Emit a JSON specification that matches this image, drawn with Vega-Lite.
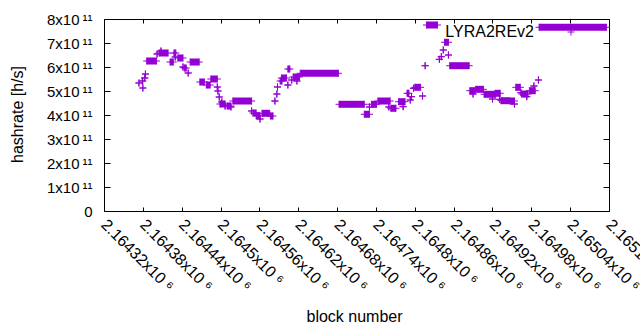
{
  "$schema": "https://vega.github.io/schema/vega-lite/v6.json",
  "width": 505,
  "height": 192,
  "autosize": {"type": "none"},
  "padding": {"left": 104, "top": 19, "right": 31, "bottom": 119},
  "background": "white",
  "config": {
    "view": {"stroke": "black", "strokeWidth": 1},
    "font": "Liberation Sans",
    "axis": {
      "grid": false,
      "domain": false,
      "tickColor": "black",
      "tickSize": -6,
      "tickWidth": 1,
      "labelFont": "Liberation Sans",
      "labelFontSize": 15,
      "labelColor": "black",
      "titleFont": "Liberation Sans",
      "titleFontSize": 16,
      "titleFontWeight": "normal",
      "titleColor": "black"
    },
    "legend": {
      "orient": "none",
      "legendX": 459,
      "legendY": 5,
      "padding": 0,
      "labelAlign": "right",
      "labelOffset": -45,
      "labelFont": "Liberation Sans",
      "labelFontSize": 16,
      "labelColor": "black",
      "symbolType": "M-1,0H1M0,-1V1",
      "symbolSize": 49,
      "symbolStrokeWidth": 1,
      "symbolFillColor": "transparent",
      "symbolStrokeColor": "#9400d3"
    }
  },
  "data": {
    "values": [
      {"block": 2164374, "end": 2164374, "hashrate": 5.333e11},
      {"block": 2164379, "end": 2164380, "hashrate": 5.417e11},
      {"block": 2164380, "end": 2164380, "hashrate": 5.125e11},
      {"block": 2164383, "end": 2164383, "hashrate": 5.542e11},
      {"block": 2164384, "end": 2164384, "hashrate": 5.708e11},
      {"block": 2164386, "end": 2164401, "hashrate": 6.25e11},
      {"block": 2164402, "end": 2164402, "hashrate": 6.542e11},
      {"block": 2164405, "end": 2164419, "hashrate": 6.583e11},
      {"block": 2164408, "end": 2164408, "hashrate": 6.667e11},
      {"block": 2164422, "end": 2164427, "hashrate": 6.208e11},
      {"block": 2164428, "end": 2164431, "hashrate": 6.583e11},
      {"block": 2164430, "end": 2164430, "hashrate": 6.417e11},
      {"block": 2164434, "end": 2164442, "hashrate": 6.375e11},
      {"block": 2164442, "end": 2164442, "hashrate": 6.0e11},
      {"block": 2164444, "end": 2164447, "hashrate": 5.958e11},
      {"block": 2164450, "end": 2164450, "hashrate": 5.75e11},
      {"block": 2164453, "end": 2164467, "hashrate": 6.208e11},
      {"block": 2164468, "end": 2164475, "hashrate": 5.375e11},
      {"block": 2164478, "end": 2164484, "hashrate": 5.25e11},
      {"block": 2164485, "end": 2164495, "hashrate": 5.5e11},
      {"block": 2164495, "end": 2164495, "hashrate": 5.167e11},
      {"block": 2164496, "end": 2164496, "hashrate": 5.0e11},
      {"block": 2164498, "end": 2164498, "hashrate": 4.75e11},
      {"block": 2164499, "end": 2164507, "hashrate": 4.458e11},
      {"block": 2164502, "end": 2164502, "hashrate": 4.542e11},
      {"block": 2164507, "end": 2164507, "hashrate": 4.375e11},
      {"block": 2164510, "end": 2164516, "hashrate": 4.375e11},
      {"block": 2164516, "end": 2164516, "hashrate": 4.333e11},
      {"block": 2164519, "end": 2164548, "hashrate": 4.583e11},
      {"block": 2164548, "end": 2164548, "hashrate": 4.167e11},
      {"block": 2164550, "end": 2164555, "hashrate": 4.083e11},
      {"block": 2164555, "end": 2164561, "hashrate": 3.97e11},
      {"block": 2164561, "end": 2164561, "hashrate": 3.833e11},
      {"block": 2164564, "end": 2164576, "hashrate": 4.07e11},
      {"block": 2164577, "end": 2164581, "hashrate": 3.958e11},
      {"block": 2164584, "end": 2164584, "hashrate": 4.583e11},
      {"block": 2164587, "end": 2164587, "hashrate": 4.875e11},
      {"block": 2164588, "end": 2164588, "hashrate": 5.167e11},
      {"block": 2164592, "end": 2164595, "hashrate": 5.417e11},
      {"block": 2164594, "end": 2164602, "hashrate": 5.542e11},
      {"block": 2164604, "end": 2164604, "hashrate": 5.25e11},
      {"block": 2164604, "end": 2164607, "hashrate": 5.917e11},
      {"block": 2164610, "end": 2164610, "hashrate": 5.458e11},
      {"block": 2164612, "end": 2164622, "hashrate": 5.583e11},
      {"block": 2164618, "end": 2164618, "hashrate": 5.417e11},
      {"block": 2164623, "end": 2164682, "hashrate": 5.737e11},
      {"block": 2164683, "end": 2164722, "hashrate": 4.446e11},
      {"block": 2164722, "end": 2164730, "hashrate": 4.03e11},
      {"block": 2164730, "end": 2164730, "hashrate": 4.333e11},
      {"block": 2164733, "end": 2164741, "hashrate": 4.446e11},
      {"block": 2164743, "end": 2164762, "hashrate": 4.583e11},
      {"block": 2164760, "end": 2164760, "hashrate": 4.333e11},
      {"block": 2164763, "end": 2164771, "hashrate": 4.28e11},
      {"block": 2164775, "end": 2164785, "hashrate": 4.554e11},
      {"block": 2164782, "end": 2164782, "hashrate": 4.346e11},
      {"block": 2164788, "end": 2164791, "hashrate": 4.904e11},
      {"block": 2164793, "end": 2164793, "hashrate": 4.625e11},
      {"block": 2164795, "end": 2164795, "hashrate": 4.763e11},
      {"block": 2164798, "end": 2164798, "hashrate": 5.113e11},
      {"block": 2164800, "end": 2164809, "hashrate": 5.154e11},
      {"block": 2164812, "end": 2164812, "hashrate": 4.792e11},
      {"block": 2164816, "end": 2164816, "hashrate": 6.054e11},
      {"block": 2164818, "end": 2164835, "hashrate": 7.75e11},
      {"block": 2164838, "end": 2164838, "hashrate": 6.32e11},
      {"block": 2164841, "end": 2164841, "hashrate": 6.43e11},
      {"block": 2164844, "end": 2164844, "hashrate": 6.708e11},
      {"block": 2164846, "end": 2164852, "hashrate": 7.03e11},
      {"block": 2164852, "end": 2164852, "hashrate": 6.5e11},
      {"block": 2164854, "end": 2164884, "hashrate": 6.054e11},
      {"block": 2164885, "end": 2164893, "hashrate": 5.013e11},
      {"block": 2164890, "end": 2164890, "hashrate": 4.875e11},
      {"block": 2164894, "end": 2164906, "hashrate": 5.07e11},
      {"block": 2164907, "end": 2164925, "hashrate": 4.863e11},
      {"block": 2164920, "end": 2164920, "hashrate": 4.667e11},
      {"block": 2164924, "end": 2164932, "hashrate": 4.904e11},
      {"block": 2164931, "end": 2164931, "hashrate": 4.654e11},
      {"block": 2164933, "end": 2164946, "hashrate": 4.596e11},
      {"block": 2164947, "end": 2164954, "hashrate": 4.583e11},
      {"block": 2164954, "end": 2164954, "hashrate": 4.458e11},
      {"block": 2164956, "end": 2164963, "hashrate": 5.154e11},
      {"block": 2164964, "end": 2164964, "hashrate": 4.93e11},
      {"block": 2164965, "end": 2164975, "hashrate": 4.875e11},
      {"block": 2164973, "end": 2164973, "hashrate": 4.763e11},
      {"block": 2164977, "end": 2164986, "hashrate": 5.013e11},
      {"block": 2164984, "end": 2164984, "hashrate": 5.208e11},
      {"block": 2164991, "end": 2164991, "hashrate": 5.458e11},
      {"block": 2164992, "end": 2165096, "hashrate": 7.654e11}
    ]
  },
  "layer": [
    {
      "mark": {"type": "rule", "strokeWidth": 7, "strokeCap": "butt", "color": "#9400d3"},
      "encoding": {
        "x": {
          "field": "block",
          "type": "quantitative",
          "scale": {"domain": [2164320, 2165100], "nice": false, "zero": false},
          "axis": {
            "orient": "bottom",
            "values": [2164320, 2164380, 2164440, 2164500, 2164560, 2164620, 2164680, 2164740, 2164800, 2164860, 2164920, 2164980, 2165040, 2165100],
            "labelExpr": "format(datum.value / 1000000, '.5~f') + 'x10 ⁶'",
            "labelAngle": 45,
            "labelAlign": "left",
            "labelBaseline": "top",
            "labelFontSize": 16,
            "labelPadding": 9,
            "labelOffset": 5,
            "tickSize": -4,
            "labelOverlap": false,
            "labelBound": false,
            "labelFlush": false,
            "title": "block number",
            "titleX": 250,
            "titleY": 110.7,
            "titleBaseline": "alphabetic",
            "titleAlign": "center"
          }
        },
        "x2": {"field": "end"},
        "y": {
          "field": "hashrate",
          "type": "quantitative",
          "scale": {"domain": [0, 800000000000], "nice": false, "zero": true},
          "axis": {
            "orient": "left",
            "values": [0, 100000000000, 200000000000, 300000000000, 400000000000, 500000000000, 600000000000, 700000000000, 800000000000],
            "labelExpr": "datum.value == 0 ? '0' : format(datum.value / 100000000000, 'd') + 'x10\u2009¹¹'",
            "labelPadding": 18,
            "labelOverlap": false,
            "labelFlush": false,
            "title": "hashrate [h/s]",
            "titleAngle": -90,
            "titleX": -82,
            "titleY": 95,
            "titleBaseline": "alphabetic",
            "titleAlign": "center"
          }
        }
      }
    },
    {
      "mark": {"type": "point", "shape": "M-1,0H1M0,-1V1", "size": 49, "strokeWidth": 1, "filled": false, "opacity": 1},
      "encoding": {
        "x": {
          "field": "block",
          "type": "quantitative",
          "axis": {
            "orient": "top",
            "values": [2164320, 2164380, 2164440, 2164500, 2164560, 2164620, 2164680, 2164740, 2164800, 2164860, 2164920, 2164980, 2165040, 2165100],
            "labels": false,
            "tickSize": -4,
            "title": null
          }
        },
        "y": {
          "field": "hashrate",
          "type": "quantitative",
          "axis": {
            "orient": "right",
            "values": [0, 100000000000, 200000000000, 300000000000, 400000000000, 500000000000, 600000000000, 700000000000, 800000000000],
            "labels": false,
            "title": null
          }
        },
        "color": {
          "datum": "LYRA2REv2",
          "type": "nominal",
          "scale": {"range": ["#9400d3"]},
          "legend": {"title": null}
        }
      }
    },
    {
      "mark": {"type": "point", "shape": "M-1,0H1M0,-1V1", "size": 49, "strokeWidth": 1, "filled": false, "opacity": 1, "color": "#9400d3"},
      "encoding": {
        "x": {"field": "end", "type": "quantitative", "axis": null},
        "y": {"field": "hashrate", "type": "quantitative", "axis": null}
      }
    }
  ],
  "resolve": {"axis": {"x": "independent", "y": "independent"}}
}
